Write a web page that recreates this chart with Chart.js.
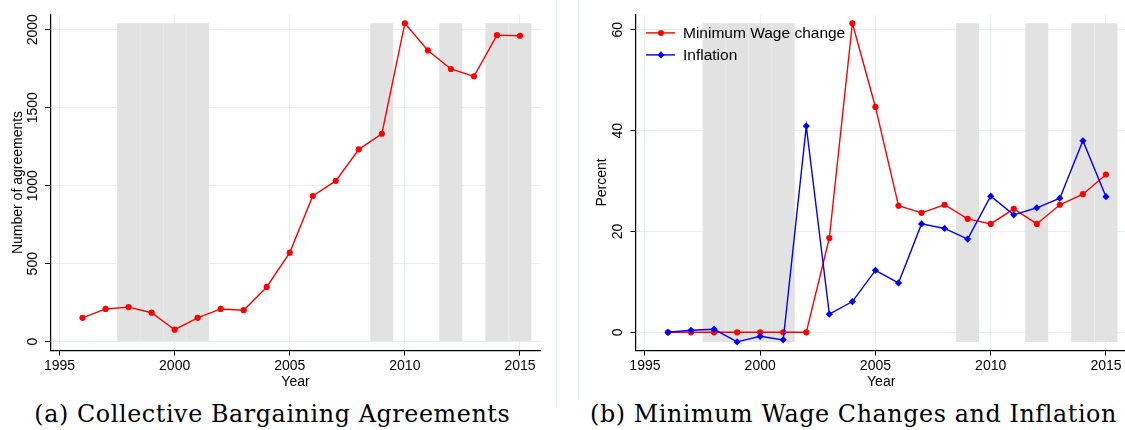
<!DOCTYPE html>
<html>
<head>
<meta charset="utf-8">
<script src="https://cdn.jsdelivr.net/npm/chart.js@4.4.1/dist/chart.umd.min.js"></script>
<style>
  html, body { margin:0; padding:0; background:#fff; }
  body { width:1125px; height:430px; overflow:hidden; position:relative; font-family:"Liberation Sans", Arial, sans-serif; }
  .panel { position:absolute; top:0; height:391px; }
  #pa { left:0; width:556px; }
  #pb { left:578px; width:567px; }
  .frame { position:absolute; top:0; width:1px; background:#e8eef0; }
  .cap { position:absolute; white-space:nowrap; font-family:"DejaVu Serif", serif; color:#000; line-height:1; top:400px; }
  .legend { position:absolute; left:646px; top:22px; font-size:15.5px; color:#000; }
  .legend .row { position:relative; height:21.7px; line-height:21.7px; padding-left:37px; white-space:nowrap; }
  .legend svg { position:absolute; left:0; top:0; }
</style>
</head>
<body>
<div class="panel" id="pa"><canvas id="ca"></canvas></div>
<div class="panel" id="pb"><canvas id="cb"></canvas></div>
<div class="frame" style="left:556px;height:408px;"></div>
<div class="frame" style="left:578px;height:400px;"></div>
<div class="legend" id="legend"></div>
<div class="cap" id="capA">(a) Collective Bargaining Agreements<span class="bl" style="display:inline-block;width:0;height:0;vertical-align:baseline"></span></div>
<div class="cap" id="capB">(b) Minimum Wage Changes and Inflation<span class="bl" style="display:inline-block;width:0;height:0;vertical-align:baseline"></span></div>
<script>
// ---- data ----
const years = [1996,1997,1998,1999,2000,2001,2002,2003,2004,2005,2006,2007,2008,2009,2010,2011,2012,2013,2014,2015];
const agreements = [153,210,222,186,77,153,210,202,351,571,934,1031,1233,1333,2041,1867,1748,1701,1965,1961];
const minWageChange = [0,0,0,0,0,0,0,18.7,61.3,44.7,25.1,23.7,25.3,22.5,21.5,24.5,21.5,25.3,27.4,31.3];
const inflation = [0,0.4,0.6,-1.9,-0.8,-1.5,40.9,3.6,6.1,12.3,9.8,21.5,20.6,18.5,27.0,23.3,24.7,26.6,38.0,26.9];
const shadedYears = [1998,1999,2000,2001,2009,2012,2014,2015];
const xTickLabels = [1995,2000,2005,2010,2015];
const yTicksA = [0,500,1000,1500,2000];
const yTicksB = [0,20,40,60];
const seriesLabelsB = ['Minimum Wage change','Inflation'];

// ---- helpers ----
const FONT = '"Liberation Sans", Arial, sans-serif';
const GRID = '#e7eff1';
function pts(vals){ return years.map((y,i)=>({x:y, y:vals[i]})); }
function band(lo, hi){ return shadedYears.map(y=>({x:y, y:[lo, hi]})); }
function shadeDataset(lo, hi){
  return { type:'bar', data: band(lo, hi), backgroundColor:'#e2e2e2', borderColor:'#e9e9e9',
    borderWidth:{left:1, right:0, top:0, bottom:0}, borderSkipped:false,
    barPercentage:1, categoryPercentage:1, order:3 };
}
function lineDataset(label, vals, color, style, radius, order){
  return { type:'line', label, data: pts(vals), borderColor:color, backgroundColor:color,
    borderWidth:1.4, pointStyle:style, pointRadius:radius, pointBorderWidth:0,
    pointBackgroundColor:color, tension:0, order };
}
function options(yMin, yMax, yTicks, yTitle, yWidth, yTitlePad, yTickPad, padRight){
  return {
    responsive:true, maintainAspectRatio:false, animation:false, events:[],
    layout:{ padding:{ left:0, top:14.7, right:padRight, bottom:0 } },
    plugins:{ legend:{display:false}, tooltip:{enabled:false} },
    scales:{
      x:{ type:'linear', min:1994.6, max:2015.9, offset:false,
        afterBuildTicks: s => { s.ticks = xTickLabels.map(v=>({value:v})); },
        afterFit: s => { s.height = 40.7; },
        ticks:{ autoSkip:false, maxRotation:0, padding:2, color:'#000', font:{family:FONT, size:14}, callback: v => String(v) },
        grid:{ offset:false, color:GRID, lineWidth:1, tickColor:'#000', tickLength:5.3 },
        border:{ color:'#000', width:1.2 },
        title:{ display:true, text:'Year', color:'#000', font:{family:FONT, size:14}, padding:0 }
      },
      y:{ type:'linear', min:yMin, max:yMax, offset:false,
        afterBuildTicks: s => { s.ticks = yTicks.map(v=>({value:v})); },
        afterFit: s => { s.width = yWidth; },
        ticks:{ minRotation:90, maxRotation:90, crossAlign:'center', padding:yTickPad, color:'#000', font:{family:FONT, size:14}, callback: v => String(v) },
        grid:{ offset:false, color:GRID, lineWidth:1, tickColor:'#000', tickLength:5.3 },
        border:{ color:'#000', width:1.2 },
        title:{ display:true, text:yTitle, color:'#000', font:{family:FONT, size:14}, padding:{top:yTitlePad, bottom:0} }
      }
    }
  };
}

// ---- chart (a) ----
const loA = Math.min(0, ...agreements), hiA = Math.max(...agreements);
new Chart(document.getElementById('ca'), {
  type:'line',
  data:{ datasets:[
    lineDataset('Number of agreements', agreements, '#ff0000', 'circle', 3.1, 1),
    shadeDataset(loA, hiA)
  ]},
  options: options(-55, 2096, yTicksA, 'Number of agreements', 50.3, 10, -3.9, 15.3)
});

// ---- chart (b) ----
const allB = minWageChange.concat(inflation);
const loB = Math.min(0, ...allB), hiB = Math.max(...allB);
const dsB = [
  lineDataset(seriesLabelsB[1], inflation, '#0000ff', 'rectRot', 3.6, 0),
  lineDataset(seriesLabelsB[0], minWageChange, '#ff0000', 'circle', 3.1, 1),
  shadeDataset(loB, hiB)
];
new Chart(document.getElementById('cb'), {
  type:'line',
  data:{ datasets: dsB },
  options: options(-3.57, 63.0, yTicksB, 'Percent', 57.7, 16.1, 4.3, 18.3)
});

// ---- legend (HTML, from dataset labels/colours) ----
const leg = document.getElementById('legend');
seriesLabelsB.forEach(lbl => {
  const ds = dsB.find(d => d.label === lbl);
  const row = document.createElement('div'); row.className = 'row';
  const c = ds.borderColor;
  const marker = ds.pointStyle === 'rectRot'
    ? `<polygon points="15,7.3 18.6,10.9 15,14.5 11.4,10.9" fill="${c}"/>`
    : `<circle cx="15" cy="10.9" r="3" fill="${c}"/>`;
  row.innerHTML = `<svg width="30" height="22"><line x1="0" y1="10.9" x2="29" y2="10.9" stroke="${c}" stroke-width="1.4"/>${marker}</svg>` + lbl;
  leg.appendChild(row);
});

// ---- captions: font size from cap height, letter-spacing to fit measured width ----
const capA = document.getElementById('capA'), capB = document.getElementById('capB');
const fs = 23.8;
capA.style.fontSize = fs + 'px';
capA.style.letterSpacing = '0px';
const textLen = capA.textContent.length;
const ls = (476 - capA.getBoundingClientRect().width) / textLen;
[capA, capB].forEach((el, i) => {
  el.style.fontSize = fs + 'px';
  el.style.letterSpacing = ls + 'px';
  el.style.left = (i === 0 ? 34.3 : 590) + 'px';
  el.style.top = '400px';
  const bl = el.querySelector('.bl').getBoundingClientRect().top;
  el.style.top = (400 + 421.7 - bl) + 'px';
});
</script>
</body>
</html>
